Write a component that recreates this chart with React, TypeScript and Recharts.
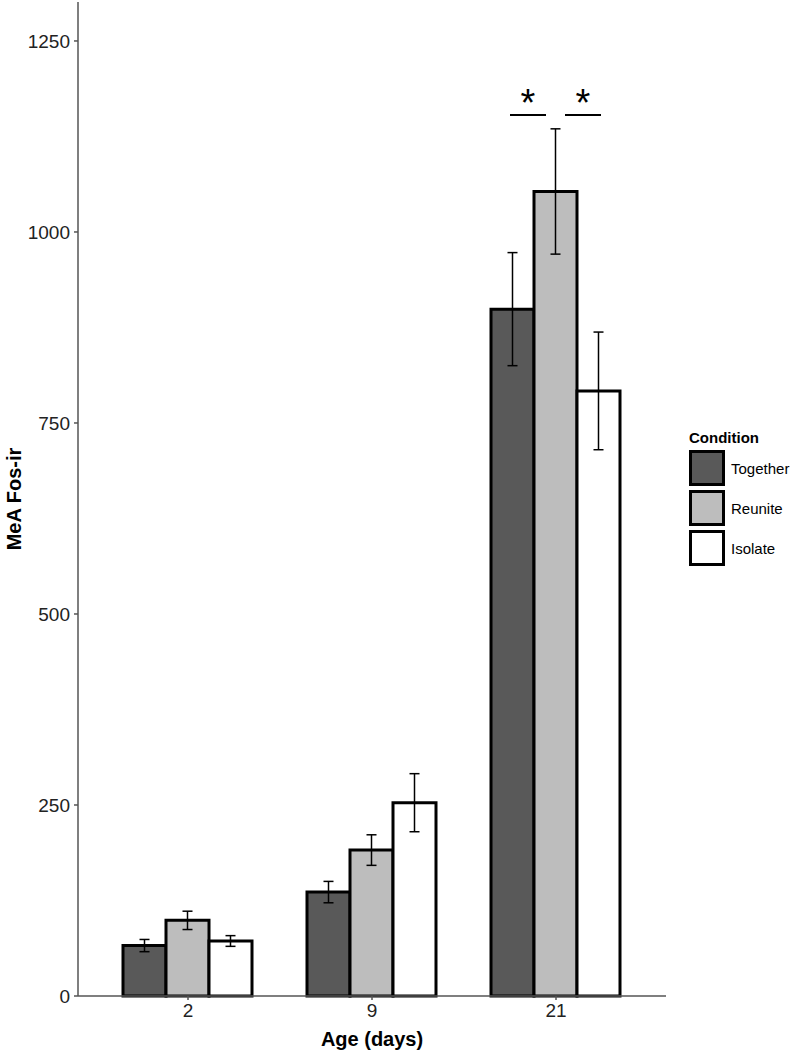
import React from "react";
import {
  Bar,
  BarChart,
  ErrorBar,
  XAxis,
  YAxis,
  Customized,
} from "recharts";

const ages = ["2", "9", "21"];
const together = [66, 136, 899];
const togetherErr = [8, 14, 74];
const reunite = [99, 191, 1053];
const reuniteErr = [12, 20, 82];
const isolate = [72, 253, 792];
const isolateErr = [7, 38, 77];
const yTicks = [0, 250, 500, 750, 1000, 1250];

const series = [
  { key: "together", name: "Together", fill: "#595959" },
  { key: "reunite", name: "Reunite", fill: "#bdbdbd" },
  { key: "isolate", name: "Isolate", fill: "#ffffff" },
];

const data = ages.map((age, i) => ({
  age,
  together: together[i],
  togetherErr: togetherErr[i],
  reunite: reunite[i],
  reuniteErr: reuniteErr[i],
  isolate: isolate[i],
  isolateErr: isolateErr[i],
}));

const font = "'Liberation Sans', Arial, Helvetica, sans-serif";

// the two significance bars over day 21
function SigMarks() {
  const lines = [
    [510, 546, 528],
    [565, 601, 583],
  ];
  return (
    <g>
      {lines.map(([x1, x2, cx]) => (
        <g key={cx}>
          <line x1={x1} x2={x2} y1={115} y2={115} stroke="#000" strokeWidth={2} />
          <text x={cx} y={116} textAnchor="middle" fontSize={38} fontFamily={font}>
            *
          </text>
        </g>
      ))}
    </g>
  );
}

function ConditionLegend() {
  return (
    <div
      style={{
        position: "absolute",
        left: 689,
        top: 429,
        fontFamily: font,
        color: "#000",
      }}
    >
      <div style={{ fontWeight: "bold", fontSize: 15, marginBottom: 2 }}>Condition</div>
      {series.map((s) => (
        <div key={s.key} style={{ display: "flex", alignItems: "center", height: 40 }}>
          <div
            style={{
              width: 30,
              height: 30,
              background: s.fill,
              border: "3px solid #000",
            }}
          />
          <span style={{ fontSize: 15, marginLeft: 6 }}>{s.name}</span>
        </div>
      ))}
    </div>
  );
}

export default function App() {
  return (
    <div style={{ position: "absolute", left: 0, top: 0, width: 794, height: 1050, background: "#fff" }}>
      <BarChart
        width={794}
        height={1050}
        data={data}
        margin={{ top: 2, right: 128, bottom: 0, left: 18 }}
        barGap={0}
        barCategoryGap={27}
      >
        <XAxis
          dataKey="age"
          height={54}
          padding={{ left: 18, right: 18 }}
          tick={{ fill: "#222", fontSize: 19, fontFamily: font }}
          tickSize={4}
          tickMargin={4}
          stroke="#555"
          strokeWidth={1.5}
          label={{
            value: "Age (days)",
            position: "insideBottom",
            offset: 4,
            style: { fontWeight: "bold", fontSize: 20, fill: "#000", fontFamily: font },
          }}
        />
        <YAxis
          width={60}
          domain={[0, 1301]}
          ticks={yTicks}
          tick={{ fill: "#222", fontSize: 19, fontFamily: font }}
          tickSize={4}
          tickMargin={4}
          stroke="#555"
          strokeWidth={1.5}
          label={{
            value: "MeA Fos-ir",
            angle: -90,
            position: "insideLeft",
            dx: -9,
            style: {
              fontWeight: "bold",
              fontSize: 20,
              fill: "#000",
              fontFamily: font,
              textAnchor: "middle",
            },
          }}
        />
        {series.map((s) => (
          <Bar
            key={s.key}
            dataKey={s.key}
            name={s.name}
            fill={s.fill}
            stroke="#000"
            strokeWidth={3}
            isAnimationActive={false}
          >
            <ErrorBar
              dataKey={s.key + "Err"}
              width={5}
              stroke="#000"
              strokeWidth={1.5}
              direction="y"
            />
          </Bar>
        ))}
        <Customized component={SigMarks} />
      </BarChart>
      <ConditionLegend />
    </div>
  );
}
